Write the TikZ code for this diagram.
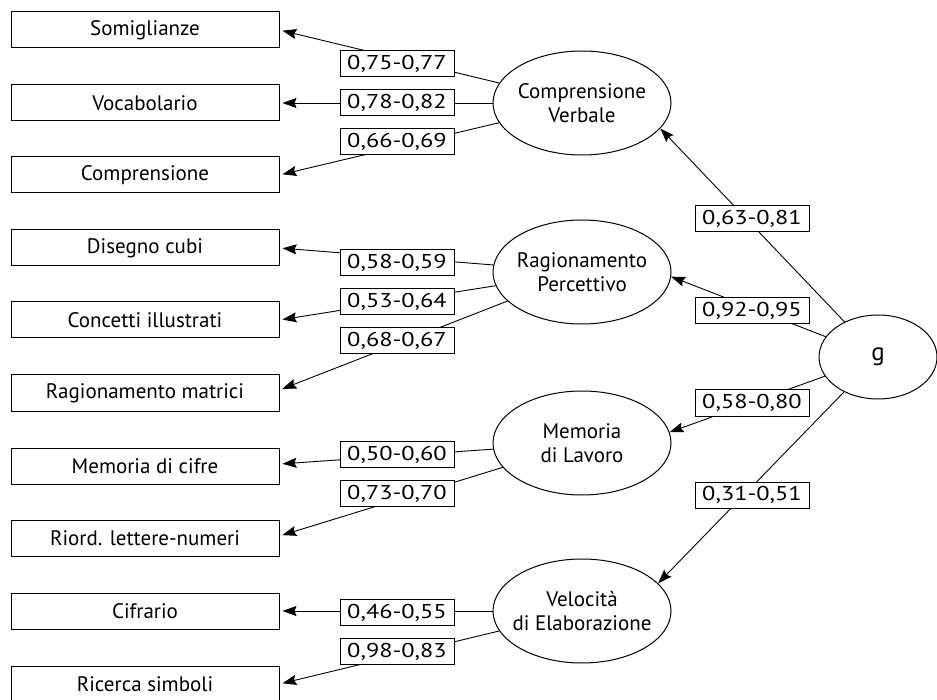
\documentclass[tikz,border=0pt]{standalone}
\usepackage{fontspec}
\setmainfont{PT Sans}
\newfontfamily\numfont[FakeStretch=1.22]{PT Sans}
\usetikzlibrary{shapes.geometric,arrows.meta}
\begin{document}
\begin{tikzpicture}[x=1pt,y=-1pt,
  testbox/.style={draw, line width=1pt, minimum width=268pt, minimum height=36pt, inner sep=0pt, font=\fontsize{21}{24}\selectfont},
  factor/.style={draw, ellipse, line width=1pt, minimum width=178pt, minimum height=104pt, inner sep=0pt, align=center, font=\fontsize{21}{24}\selectfont},
  coef/.style={draw, fill=white, line width=1pt, minimum width=114pt, minimum height=26pt, inner sep=0pt, font=\numfont\fontsize{20}{22}\selectfont},
  load/.style={line width=0.9pt, -{Stealth[length=14pt,width=10pt,inset=2pt]}, shorten >=3pt},
  gload/.style={line width=0.9pt, -{Stealth[length=14pt,width=10pt,inset=2pt]}}
]
\useasboundingbox (0,0) rectangle (937,700);
% observed tests
\node[testbox] (som) at (145,30) {Somiglianze};
\node[testbox] (voc) at (145,103) {Vocabolario};
\node[testbox] (com) at (145,175) {Comprensione};
\node[testbox] (dis) at (145,248) {Disegno cubi};
\node[testbox] (con) at (145,320) {Concetti illustrati};
\node[testbox] (rag) at (145,393) {Ragionamento matrici};
\node[testbox] (mem) at (145,466) {Memoria di cifre};
\node[testbox] (rio) at (145,538) {Riord. lettere-numeri};
\node[testbox] (cif) at (145,611) {Cifrario};
\node[testbox] (ric) at (145,684) {Ricerca simboli};
% factors
\node[factor] (cv) at (582,103) {\makebox[0pt]{Comprensione}\\\makebox[0pt]{Verbale}};
\node[factor] (rp) at (582,272) {\makebox[0pt]{Ragionamento}\\\makebox[0pt]{Percettivo}};
\node[factor] (ml) at (582,443) {\makebox[0pt]{Memoria}\\\makebox[0pt]{di Lavoro}};
\node[factor] (ve) at (582,611) {\makebox[0pt]{Velocità}\\\makebox[0pt]{di Elaborazione}};
\node[factor, minimum width=118pt, minimum height=84pt, font=\fontsize{25}{28}\selectfont] (g) at (878,357) {g};
% loadings
\draw[load] (cv) -- (som.east);
\draw[load] (cv) -- (voc.east);
\draw[load] (cv) -- (com.east);
\draw[load] (rp) -- (dis.east);
\draw[load] (rp) -- (con.east);
\draw[load] (rp) -- ([yshift=3pt]rag.east);
\draw[load] (ml) -- ([yshift=2pt]mem.east);
\draw[load] (ml) -- ([yshift=2pt]rio.east);
\draw[load] (ve) -- (cif.east);
\draw[load] (ve) -- (ric.east);
\draw[gload] (g) -- (cv.-18);
\draw[gload] (g) -- (rp.-3);
\draw[gload] (g) -- (ml.7);
\draw[gload] (g) -- (ve.20);
% coefficient labels
\node[coef] (c1) at (397,64) {0,75-0,77};
\node[coef] (c2) at (397,103) {0,78-0,82};
\node[coef] (c3) at (397,142) {0,66-0,69};
\node[coef] (c4) at (397,262.5) {0,58-0,59};
\node[coef] (c5) at (397,302) {0,53-0,64};
\node[coef] (c6) at (397,340.5) {0,68-0,67};
\node[coef] (c7) at (397,454.5) {0,50-0,60};
\node[coef] (c8) at (397,493.5) {0,73-0,70};
\node[coef] (c9) at (397,612.5) {0,46-0,55};
\node[coef] (c10) at (397,651.5) {0,98-0,83};
\node[coef] (g1) at (752,218.5) {0,63-0,81};
\node[coef] (g2) at (752,311) {0,92-0,95};
\node[coef] (g3) at (752,403) {0,58-0,80};
\node[coef] (g4) at (752,495) {0,31-0,51};
\end{tikzpicture}
\end{document}
